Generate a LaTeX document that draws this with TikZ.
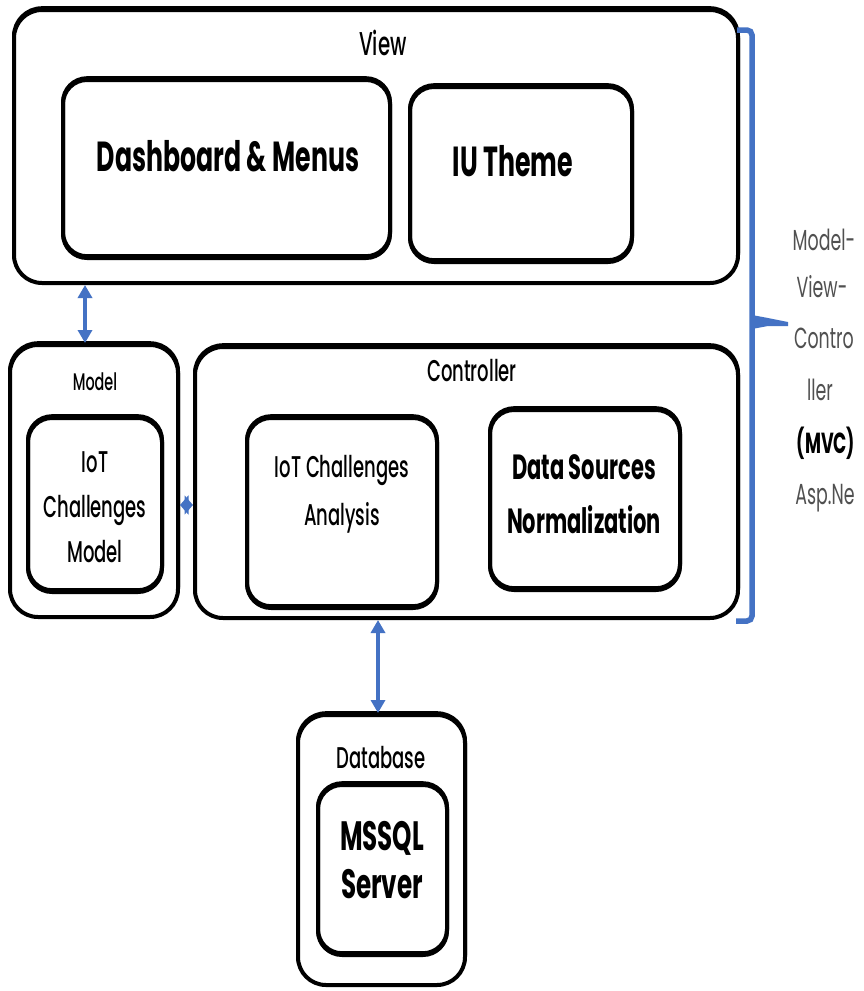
\documentclass[tikz,border=0pt]{standalone}
\usepackage{fontspec}
\setmainfont{Poppins}
\newfontfamily\medfont{Poppins}[UprightFont={* Medium}]
\usetikzlibrary{arrows.meta}
\definecolor{mvcblue}{HTML}{4472C4}
\definecolor{sidegray}{HTML}{505050}
\newcommand\sq[1]{\scalebox{0.6}[1]{#1}}
\begin{document}
\begin{tikzpicture}[x=1pt,y=-1pt,
  box/.style={draw=black,line width=4pt,rounded corners=28pt,inner sep=0pt,fill=white,
     preaction={draw=black,line width=4pt,transform canvas={yshift=1.8pt}}},
  ibox/.style={draw=black,line width=4pt,rounded corners=24pt,inner sep=0pt,
     preaction={draw=black,line width=4pt,transform canvas={yshift=1.8pt}}},
  lbl/.style={inner sep=0pt,align=center,text=black},
  side/.style={inner sep=0pt,align=center,text=sidegray,font=\fontsize{29}{34}\selectfont},
  biarrow/.style={draw=mvcblue,line width=3.5pt,{Triangle[length=13pt,width=14pt]}-{Triangle[length=13pt,width=14pt]}},
  brace/.style={draw=mvcblue,line width=5.5pt,rounded corners=5pt}]
\useasboundingbox (0,0) rectangle (864,991);
\fill[white] (0,0) rectangle (864,991);
% View
\node[box,minimum width=724pt,minimum height=273pt] (view) at (376,146.5) {};
\node[lbl,font=\medfont\fontsize{33}{38}\selectfont] (viewT) at (383,43) {\sq{View}};
\node[ibox,minimum width=327pt,minimum height=178pt] (dash) at (226.5,169) {};
\node[lbl,font=\bfseries\fontsize{42}{48}\selectfont] (dashT) at (228,156) {\sq{Dashboard \& Menus}};
\node[ibox,minimum width=222pt,minimum height=175pt] (iu) at (521,174.5) {};
\node[lbl,font=\bfseries\fontsize{42}{48}\selectfont] (iuT) at (513,161) {\sq{IU Theme}};
% Model
\node[box,minimum width=168pt,minimum height=272pt] (model) at (94,481) {};
\node[lbl,font=\medfont\fontsize{24}{28}\selectfont] (modelT) at (95,382) {\sq{Model}};
\node[ibox,minimum width=134pt,minimum height=174pt] (iotm) at (95,505) {};
\node[lbl,font=\medfont\fontsize{30}{45}\selectfont] (iotmT) at (95,507) {\sq{IoT}\\\sq{Challenges}\\\sq{Model}};
% Controller
\node[box,minimum width=543pt,minimum height=271pt] (ctrl) at (466.5,482.5) {};
\node[lbl,font=\medfont\fontsize{30}{36}\selectfont] (ctrlT) at (472,371) {\sq{Controller}};
\node[ibox,minimum width=190pt,minimum height=190pt] (ana) at (342,513) {};
\node[lbl,font=\medfont\fontsize{30}{48}\selectfont] (anaT) at (342,494) {\sq{IoT Challenges}\\\sq{Analysis}};
\node[ibox,minimum width=190pt,minimum height=180pt] (dsn) at (585,500) {};
\node[lbl,font=\bfseries\fontsize{35}{54}\selectfont] (dsnT) at (584,494) {\sq{Data Sources}\\\sq{Normalization}};
% Database
\node[box,minimum width=167pt,minimum height=270pt] (db) at (381.5,850) {};
\node[lbl,font=\medfont\fontsize{30}{36}\selectfont] (dbT) at (381,758) {\sq{Database}};
\node[ibox,minimum width=129pt,minimum height=170pt] (ms) at (382.5,870) {};
\node[lbl,font=\bfseries\fontsize{41}{48}\selectfont] (msT) at (382,860) {\sq{MSSQL}\\\sq{Server}};
% connectors
\draw[biarrow] (model.north -| 85,0) -- (view.south -| 85,0);
\draw[biarrow] (ctrl.south -| 378,0) -- (db.north -| 378,0);
\draw[draw=mvcblue,line width=3pt,{Triangle[length=8.5pt,width=19pt]}-{Triangle[length=8.5pt,width=19pt]}] (model.east |- 0,505) -- (ctrl.west |- 0,505);
% brace
\coordinate (bt) at (737,30);
\coordinate (bb) at (736,621);
\coordinate (bm) at (752,322);
\coordinate (btip) at (788,322);
\draw[brace] (bt) -- (752,30) -- (752,621) -- (bb);
\fill[mvcblue] (752,315) -- (768,318) -- (btip) -- (788,326) -- (768,326) -- (752,329) -- cycle;
% side text
\node[side] (s1) at (824,240) {\sq{Model-}};
\node[side] (s2) at (822,287) {\sq{View-}};
\node[side] (s3) at (824,338) {\sq{Contro}};
\node[side] (s4) at (820,390) {\sq{ller}};
\node[side,text=black,font=\bfseries\fontsize{29}{34}\selectfont] (s5) at (826,443) {\sq{(MVC)}};
\node[side] (s6) at (825,498) {\sq{Asp.Ne}};
\end{tikzpicture}
\end{document}
